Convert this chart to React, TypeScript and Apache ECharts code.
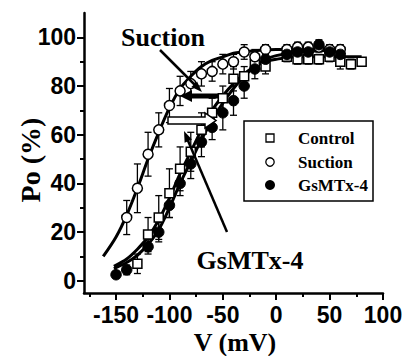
import React, { useEffect, useRef } from 'react';
import * as echarts from 'echarts';

// ---- data ----
const controlV = [-130, -120, -110, -100, -90, -80, -70, -60, -50, -40, -30, -20, -10, 10, 20, 30, 40, 50, 60, 70, 80];
const controlPo = [7, 19, 26, 36, 46, 53, 62, 69, 75, 83, 84, 89, 88, 92, 91, 91, 91, 92, 90, 89, 90];
const controlErr = [4, 7, 9, 10, 9, 8, 7, 6, 5, 5, 4, 3, 3, 2, 2, 2, 2, 2, 3, 2, 1.5];

const suctionV = [-140, -130, -120, -110, -100, -90, -80, -70, -60, -50, -40, -30, -20, -10, 10, 20, 30, 40, 50, 60];
const suctionPo = [26, 38, 52, 62, 72, 78, 81, 85, 86, 89, 90, 94, 92, 95, 95, 96, 96, 96, 95, 95];
const suctionErr = [7, 10, 9, 7, 7, 6, 5, 5, 4, 4, 3, 3, 3, 2, 2, 2, 2, 2, 2, 2];

const gsmtxV = [-150, -140, -120, -110, -100, -90, -80, -70, -60, -50, -40, -30, -20, -10, 10, 20, 30, 40, 50, 60];
const gsmtxPo = [2.5, 4.5, 14, 20, 31, 40, 48, 57, 63, 69, 74, 80, 87, 91, 93, 94, 94, 97, 94, 93];
const gsmtxErr = [1.5, 2, 3, 4, 5, 5, 6, 6, 5, 7, 6, 5, 4, 3, 2, 2, 2, 2, 2, 3];

// fitted curves, points
const fitSuctionV = [-162, -150, -140, -130, -120, -110, -100, -90, -80, -70, -60, -50, -40, -30, -20, 0, 20, 40, 60];
const fitSuctionPo = [10, 18, 27, 38, 50, 61, 71, 79, 84, 88, 90.5, 92, 93.5, 94, 94.5, 95, 95, 95, 95];
const fitControlV = [-152, -140, -130, -120, -110, -100, -90, -80, -70, -60, -50, -40, -30, -20, -10, 0, 20, 40, 60, 80];
const fitControlPo = [6, 9, 13, 18, 25, 34, 44, 53, 62, 70, 76, 81, 85, 88, 90, 91, 92, 92, 92, 92];
const fitGsmtxV = [-152, -140, -130, -120, -110, -100, -90, -80, -70, -60, -50, -40, -30, -20, -10, 0, 20, 40, 60];
const fitGsmtxPo = [5, 7.5, 10.5, 15, 21, 30, 40, 49, 58, 66, 73, 79, 84, 88, 91, 92.5, 94, 94.5, 95];

const xTicks = [-150, -100, -50, 0, 50, 100];
const xMinor = [-175, -125, -75, -25, 25, 75];
const yTicks = [0, 20, 40, 60, 80, 100];
const yMinor = [10, 30, 50, 70, 90];

const legendNames = ['Control', 'Suction', 'GsMTx-4'];

const SANS = "'Liberation Sans Narrow', 'Arial Narrow', 'Liberation Sans', Arial, sans-serif";
const SERIF = "'Liberation Serif', 'Times New Roman', serif";

function pairs(xs: number[], ys: number[]) {
  return xs.map((x, i) => [x, ys[i]]);
}
function triples(xs: number[], ys: number[], es: number[]) {
  return xs.map((x, i) => [x, ys[i], es[i]]);
}

function arrowHead(x1: number, y1: number, x2: number, y2: number, len: number, half: number) {
  const dx = x2 - x1, dy = y2 - y1;
  const d = Math.sqrt(dx * dx + dy * dy);
  const ux = dx / d, uy = dy / d;
  const bx = x2 - ux * len, by = y2 - uy * len;
  const px = -uy, py = ux;
  return [[x2, y2], [bx + px * half, by + py * half], [bx - px * half, by - py * half]];
}

function errorSeries(name: string, data: number[][]) {
  return {
    type: 'custom',
    name,
    z: 2,
    silent: true,
    data,
    renderItem: (params: any, api: any) => {
      const x = api.value(0), y = api.value(1), e = api.value(2);
      const top = api.coord([x, y + e]);
      const bot = api.coord([x, y - e]);
      const cw = 3.5;
      const st = { stroke: '#000', lineWidth: 1.3 };
      return {
        type: 'group',
        children: [
          { type: 'line', shape: { x1: top[0], y1: top[1], x2: bot[0], y2: bot[1] }, style: st },
          { type: 'line', shape: { x1: top[0] - cw, y1: top[1], x2: top[0] + cw, y2: top[1] }, style: st },
          { type: 'line', shape: { x1: bot[0] - cw, y1: bot[1], x2: bot[0] + cw, y2: bot[1] }, style: st },
        ],
      };
    },
  };
}

function fitSeries(name: string, data: number[][]) {
  return {
    type: 'line',
    name,
    data,
    z: 1,
    symbol: 'none',
    showSymbol: false,
    smooth: 0.3,
    silent: true,
    lineStyle: { color: '#000', width: 3 },
  };
}

export default function App() {
  const ref = useRef<HTMLDivElement>(null);
  useEffect(() => {
    if (!ref.current) return;
    const chart = echarts.init(ref.current, null, { renderer: 'svg' });
    const axisLineStyle = { color: '#000', width: 2.5 };
    const tickStyle = { color: '#000', width: 2 };

    const sHead = arrowHead(160, 50, 202, 92, 11, 4);
    const gHead = arrowHead(227, 232, 184, 131, 11, 4);

    const legendRowY = [138, 162, 185];
    const legendSymbols = [
      { type: 'rect', shape: { x: 266, y: legendRowY[0] - 4, width: 8, height: 8 }, style: { fill: '#fff', stroke: '#000', lineWidth: 1.3 } },
      { type: 'circle', shape: { cx: 270, cy: legendRowY[1], r: 4.2 }, style: { fill: '#fff', stroke: '#000', lineWidth: 1.3 } },
      { type: 'circle', shape: { cx: 270, cy: legendRowY[2], r: 5 }, style: { fill: '#000' } },
    ];
    const legendTexts = legendNames.map((n, i) => ({
      type: 'text', x: 298, y: legendRowY[i],
      style: { text: n, align: 'left', verticalAlign: 'middle', font: `bold 17px ${SERIF}`, fill: '#000' },
    }));

    chart.setOption({
      animation: false,
      backgroundColor: '#fff',
      grid: { left: 84, right: 19, top: 13, bottom: 63, containLabel: false, outerBoundsMode: 'none' },
      xAxis: [
        {
          type: 'value', min: -180, max: 100, position: 'bottom',
          axisLine: { show: true, onZero: false, lineStyle: axisLineStyle },
          axisTick: { show: true, customValues: xTicks, length: 7, lineStyle: tickStyle },
          axisLabel: { show: true, customValues: xTicks, margin: 11, fontSize: 23, lineHeight: 22, fontWeight: 'bold', fontFamily: SANS, color: '#000' },
          splitLine: { show: false },
        },
        {
          type: 'value', min: -180, max: 100, position: 'bottom',
          axisLine: { show: false, onZero: false },
          axisTick: { show: true, customValues: xMinor, length: 4, lineStyle: tickStyle },
          axisLabel: { show: false },
          splitLine: { show: false },
        },
      ],
      yAxis: [
        {
          type: 'value', min: -5, max: 110, position: 'left',
          axisLine: { show: true, onZero: false, lineStyle: axisLineStyle },
          axisTick: { show: true, customValues: yTicks, length: 7, lineStyle: tickStyle },
          axisLabel: { show: true, customValues: yTicks, margin: 8, fontSize: 23, fontWeight: 'bold', fontFamily: SANS, color: '#000' },
          splitLine: { show: false },
        },
        {
          type: 'value', min: -5, max: 110, position: 'left',
          axisLine: { show: false, onZero: false },
          axisTick: { show: true, customValues: yMinor, length: 4, lineStyle: tickStyle },
          axisLabel: { show: false },
          splitLine: { show: false },
        },
      ],
      series: [
        fitSeries('fitSuction', pairs(fitSuctionV, fitSuctionPo)),
        fitSeries('fitControl', pairs(fitControlV, fitControlPo)),
        fitSeries('fitGsmtx', pairs(fitGsmtxV, fitGsmtxPo)),
        errorSeries('errControl', triples(controlV, controlPo, controlErr)),
        errorSeries('errSuction', triples(suctionV, suctionPo, suctionErr)),
        errorSeries('errGsmtx', triples(gsmtxV, gsmtxPo, gsmtxErr)),
        {
          type: 'scatter', name: legendNames[0], z: 3, symbol: 'rect', symbolSize: 9,
          itemStyle: { color: '#fff', borderColor: '#000', borderWidth: 1.5, opacity: 1 },
          emphasis: { disabled: true },
          data: pairs(controlV, controlPo),
        },
        {
          type: 'scatter', name: legendNames[1], z: 4, symbol: 'circle', symbolSize: 10,
          itemStyle: { color: '#fff', borderColor: '#000', borderWidth: 1.5, opacity: 1 },
          emphasis: { disabled: true },
          data: pairs(suctionV, suctionPo),
        },
        {
          type: 'scatter', name: legendNames[2], z: 5, symbol: 'circle', symbolSize: 10.5,
          itemStyle: { color: '#000', borderColor: '#000', borderWidth: 1, opacity: 1 },
          emphasis: { disabled: true },
          data: pairs(gsmtxV, gsmtxPo),
        },
      ],
      graphic: [
        {
          type: 'text', x: 30, y: 160, rotation: Math.PI / 2,
          style: { text: 'Po (%)', align: 'center', verticalAlign: 'middle', font: `bold 28px ${SERIF}`, fill: '#000' },
        },
        {
          type: 'text', x: 235, y: 342,
          style: { text: 'V (mV)', align: 'center', verticalAlign: 'middle', font: `bold 26px ${SERIF}`, lineHeight: 26, fill: '#000' },
        },
        {
          type: 'text', x: 163, y: 37,
          style: { text: 'Suction', align: 'center', verticalAlign: 'middle', font: `bold 26px ${SERIF}`, fill: '#000' },
        },
        {
          type: 'text', x: 250, y: 260,
          style: { text: 'GsMTx-4', align: 'center', verticalAlign: 'middle', font: `bold 26px ${SERIF}`, fill: '#000' },
        },
        { type: 'line', z: 10, shape: { x1: 160, y1: 50, x2: 198, y2: 88 }, style: { stroke: '#000', lineWidth: 2.5 } },
        { type: 'polygon', z: 10, shape: { points: sHead }, style: { fill: '#000' } },
        { type: 'line', z: 10, shape: { x1: 227, y1: 232, x2: 186, y2: 136 }, style: { stroke: '#000', lineWidth: 2.5 } },
        { type: 'polygon', z: 10, shape: { points: gHead }, style: { fill: '#000' } },
        // filled arrow pointing left
        {
          type: 'polygon', z: 10,
          shape: { points: [[180, 96], [192, 90], [192, 93.5], [219, 93.5], [219, 98.5], [192, 98.5], [192, 102]] },
          style: { fill: '#000' },
        },
        // open arrow pointing right
        {
          type: 'polygon', z: 10,
          shape: { points: [[168, 117], [205, 117], [205, 113], [216, 120.5], [205, 128], [205, 124], [168, 124]] },
          style: { fill: '#fff', stroke: '#000', lineWidth: 1.5 },
        },
        // legend box
        {
          type: 'group', z: 20,
          children: [
            { type: 'rect', shape: { x: 244, y: 121, width: 129, height: 80 }, style: { fill: '#fff', stroke: '#000', lineWidth: 1.5 } },
            ...legendSymbols,
            ...legendTexts,
          ],
        },
      ],
    });
    return () => chart.dispose();
  }, []);
  return <div ref={ref} style={{ position: 'absolute', left: 0, top: 0, width: 402, height: 356, background: '#fff' }} />;
}
